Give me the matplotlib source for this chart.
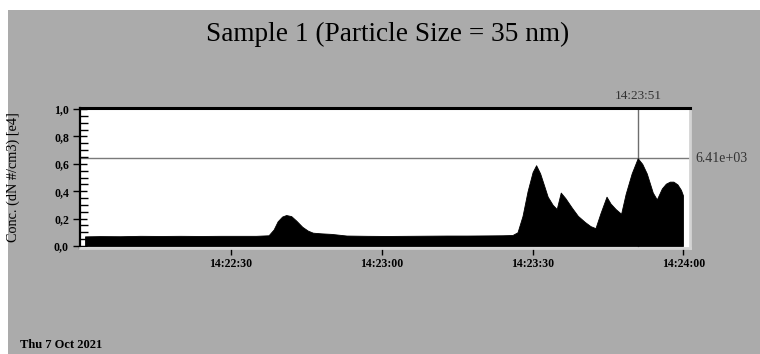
import datetime as dt
import matplotlib
matplotlib.use("Agg")
import matplotlib.pyplot as plt
import matplotlib.dates as mdates
from matplotlib.patches import Rectangle
from matplotlib.ticker import FuncFormatter, MultipleLocator

plt.rcParams['font.family'] = ['Liberation Serif', 'DejaVu Serif']

title = "Sample 1 (Particle Size = 35 nm)"
ylabel = "Conc. (dN #/cm3) [e4]"
date_text = "Thu 7 Oct 2021"
start = dt.datetime(2021, 10, 7, 14, 22, 0)

# seconds after 14:22:00 and concentration (e4 #/cm3)
secs = [1, 4, 8, 12, 16, 20, 24, 28, 32, 35, 37.5, 38.5, 39.3, 40.2, 41.0, 42.0,
        43.0, 44.2, 45.3, 46.3, 48.0, 50.0, 51.5, 53, 57, 61, 65, 69, 73, 77,
        81, 84, 86.0, 87.0, 88.0, 89.0, 90.0, 90.7, 91.5, 92.3, 93.0, 94.0,
        94.8, 95.6, 96.5, 97.8, 99.0, 100.4, 101.5, 102.5, 103.5, 104.7, 105.5,
        106.5, 107.6, 108.5, 109.7, 110.9, 111.8, 112.7, 113.9, 114.7, 115.7,
        116.5, 117.3, 118.0, 118.8, 119.5, 119.9]
conc = [0.070, 0.072, 0.071, 0.074, 0.073, 0.074, 0.073, 0.074, 0.074, 0.074,
        0.078, 0.12, 0.18, 0.215, 0.226, 0.218, 0.185, 0.14, 0.112, 0.097,
        0.092, 0.088, 0.082, 0.076, 0.074, 0.073, 0.074, 0.075, 0.076, 0.076,
        0.077, 0.078, 0.08, 0.10, 0.22, 0.40, 0.54, 0.59, 0.53, 0.44, 0.36, 0.30,
        0.27, 0.39, 0.35, 0.28, 0.22, 0.175, 0.145, 0.13, 0.24, 0.36, 0.31,
        0.27, 0.235, 0.38, 0.53, 0.641, 0.60, 0.53, 0.39, 0.34, 0.42,
        0.455, 0.47, 0.47, 0.45, 0.41, 0.37]

cursor_sec = 111
cursor_val = 0.641
cursor_text = "6.41e+03"

times = [start + dt.timedelta(seconds=s) for s in secs]

fig = plt.figure(figsize=(7.6, 3.54), dpi=100, facecolor='white')
fig.patches.append(Rectangle((8 / 760, 0), 1, 344 / 354, transform=fig.transFigure,
                             facecolor='#ababab', edgecolor='none', zorder=-5))

ax = fig.add_axes([80 / 760, 106 / 354, 610 / 760, 140 / 354])
ax.set_facecolor('white')
ax.fill_between(times, conc, 0, color='black', lw=0.6, edgecolor='black')

ax.set_xlim(start, start + dt.timedelta(seconds=121.3))
ax.set_ylim(-0.015, 1.008)

ax.xaxis.set_major_formatter(mdates.DateFormatter('%H:%M:%S'))
ticks = [start + dt.timedelta(seconds=s) for s in (30, 60, 90, 120)]
ax.set_xticks(ticks)
ax.yaxis.set_major_locator(MultipleLocator(0.2))
ax.yaxis.set_minor_locator(MultipleLocator(0.05))
ax.yaxis.set_major_formatter(FuncFormatter(lambda v, p: f"{v:.1f}".replace('.', ',')))

ax.tick_params(axis='x', direction='out', length=5, width=1, pad=2, labelsize=8.5)
ax.tick_params(axis='y', which='major', direction='inout', length=10, width=1,
               pad=3, labelsize=8.5)
ax.tick_params(axis='y', which='minor', direction='in', length=6, width=1)
for lbl in ax.get_xticklabels() + ax.get_yticklabels():
    lbl.set_fontweight('bold')

ax.spines['top'].set_linewidth(2.2)
ax.spines['left'].set_linewidth(1.6)
ax.spines['right'].set_color('#d4d4d4')
ax.spines['right'].set_linewidth(2)
ax.spines['bottom'].set_color('#d4d4d4')
ax.spines['bottom'].set_linewidth(2)

cx = start + dt.timedelta(seconds=cursor_sec)
ax.axvline(cx, color='#6e6e6e', lw=1, zorder=0.5)
ax.axhline(cursor_val, color='#7a7a7a', lw=1, zorder=0.5)
ax.text(cx, 1.04, cx.strftime('%H:%M:%S'), transform=ax.get_xaxis_transform(),
        ha='center', va='bottom', fontsize=9.5, color='#333333')
ax.text(1.008, cursor_val, cursor_text, transform=ax.get_yaxis_transform(),
        ha='left', va='center', fontsize=10, color='#333333')

fig.text(13 / 760, 1 - 177 / 354, ylabel, rotation=90, ha='center', va='center',
         fontsize=10.3)
fig.text(388 / 760, 1 - 34 / 354, title, ha='center', va='center', fontsize=19.6)
fig.text(20 / 760, 1 - 345 / 354, date_text, ha='left', va='center',
         fontsize=9, fontweight='bold')

fig.savefig('out.png', dpi=100, facecolor=fig.get_facecolor())
